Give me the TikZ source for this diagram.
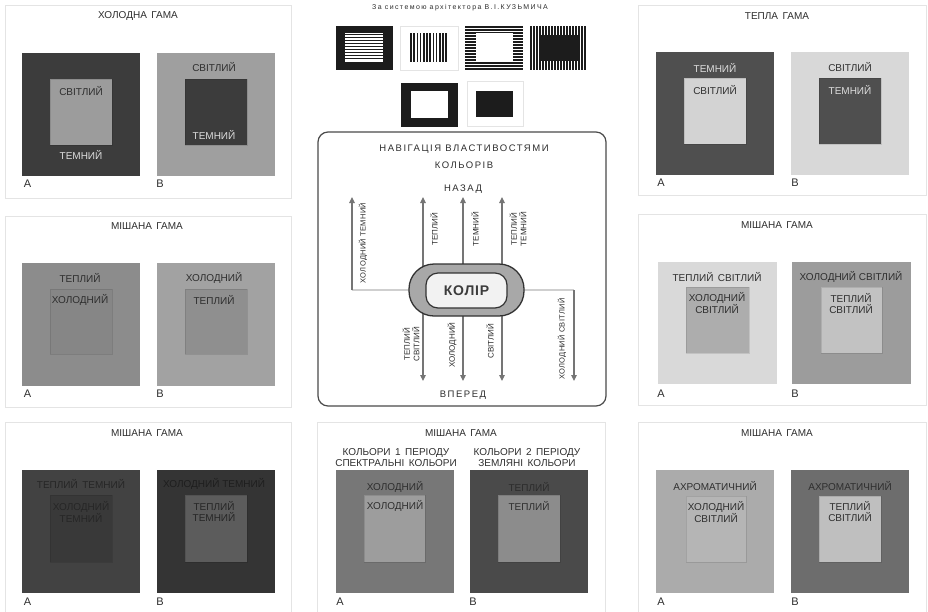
\documentclass[tikz,border=0pt]{standalone}
\usepackage{fontspec}
\setmainfont{Liberation Sans}
\usetikzlibrary{arrows.meta,backgrounds}
\definecolor{panelc}{HTML}{E4E4E4}
\definecolor{txtc}{HTML}{2E2E2E}
\definecolor{lighttxt}{HTML}{DCDCDC}
\definecolor{arrc}{HTML}{757575}
\definecolor{connc}{HTML}{CFCFCF}
\definecolor{navc}{HTML}{4A4A4A}
\definecolor{iconc}{HTML}{1C1C1C}
\newcommand{\gsp}{\hspace{0.45em}}
\begin{document}
\begin{tikzpicture}[x=1pt,y=-1pt,
  every node/.style={inner sep=0pt,outer sep=0pt},
  panel/.style={draw=panelc,line width=0.7pt,anchor=north west},
  sq/.style={anchor=north west,minimum width=118pt,minimum height=123pt},
  insq/.style={anchor=north west,minimum width=62pt,minimum height=66pt,draw=black,draw opacity=0.10,line width=0.5pt},
  ttl/.style={font=\fontsize{10}{12}\selectfont,text=txtc},
  lab/.style={font=\fontsize{10}{11}\selectfont,align=center,text=txtc},
  labl/.style={lab,text=lighttxt},
  lbl/.style={font=\fontsize{11}{12}\selectfont,text=txtc},
  navt/.style={font=\fontsize{9.5}{17}\addfontfeature{LetterSpace=16}\selectfont,text=txtc,align=center},
  rl/.style={rotate=90,font=\fontsize{8}{9.5}\selectfont,align=center,text=txtc},
  rlo/.style={rotate=90,font=\fontsize{7.5}{9}\addfontfeature{LetterSpace=4}\selectfont,text=txtc},
  arr/.style={draw=arrc,line width=1.1pt,-{Triangle[width=5.5pt,length=6pt]}},
  conn/.style={draw=connc,line width=1.4pt},
  icbox/.style={draw=panelc,line width=0.7pt}
]
\useasboundingbox (0,0) rectangle (928,611);
\begin{pgfonlayer}{background}
\fill[white] (0,0) rectangle (928,611);
\end{pgfonlayer}

% ---------- Panel 1: ХОЛОДНА ГАМА ----------
\node[panel,minimum width=286pt,minimum height=193pt] (p1) at (5,5) {};
\node[ttl] (p1t) at (138,16) {ХОЛОДНА\gsp ГАМА};
\node[sq,fill={rgb,255:red,60;green,60;blue,60}] (p1a) at (22,53) {};
\node[insq,fill={rgb,255:red,156;green,156;blue,156}] (p1ai) at (50,79) {};
\node[lab] (p1a1) at (81,91) {СВІТЛИЙ};
\node[labl] (p1a2) at (81,155) {ТЕМНИЙ};
\node[sq,fill={rgb,255:red,159;green,159;blue,159}] (p1b) at (157,53) {};
\node[insq,fill={rgb,255:red,60;green,60;blue,60}] (p1bi) at (185,79) {};
\node[lab] (p1b1) at (214,67) {СВІТЛИЙ};
\node[labl] (p1b2) at (214,135) {ТЕМНИЙ};
\node[lbl] (p1la) at (27.5,184) {А};
\node[lbl] (p1lb) at (160,184) {В};

% ---------- Panel 2: МІШАНА ГАМА (mid-left) ----------
\node[panel,minimum width=286pt,minimum height=191pt] (p2) at (5,216) {};
\node[ttl] (p2t) at (147,226) {МІШАНА\gsp ГАМА};
\node[sq,fill={rgb,255:red,140;green,140;blue,140}] (p2a) at (22,263) {};
\node[insq,minimum height=65pt,fill={rgb,255:red,134;green,134;blue,134}] (p2ai) at (50,289) {};
\node[lab] (p2a1) at (80,278) {ТЕПЛИЙ};
\node[lab] (p2a2) at (80,300) {ХОЛОДНИЙ};
\node[sq,fill={rgb,255:red,162;green,162;blue,162}] (p2b) at (157,263) {};
\node[insq,minimum height=65pt,fill={rgb,255:red,143;green,143;blue,143}] (p2bi) at (185,289) {};
\node[lab] (p2b1) at (214,278) {ХОЛОДНИЙ};
\node[lab] (p2b2) at (214,300) {ТЕПЛИЙ};
\node[lbl] (p2la) at (27.5,394) {А};
\node[lbl] (p2lb) at (160,394) {В};

% ---------- Panel 3: МІШАНА ГАМА (bottom-left) ----------
\node[panel,minimum width=286pt,minimum height=200pt] (p3) at (5,422) {};
\node[ttl] (p3t) at (147,433) {МІШАНА\gsp ГАМА};
\node[sq,fill={rgb,255:red,66;green,66;blue,66}] (p3a) at (22,470) {};
\node[insq,minimum height=67pt,fill={rgb,255:red,57;green,57;blue,57}] (p3ai) at (50,495) {};
\node[lab,text={rgb,255:red,38;green,38;blue,38}] (p3a1) at (81,484) {ТЕПЛИЙ\gsp ТЕМНИЙ};
\node[lab,text={rgb,255:red,38;green,38;blue,38}] (p3a2) at (81,511.5) {ХОЛОДНИЙ\\ТЕМНИЙ};
\node[sq,fill={rgb,255:red,52;green,52;blue,52}] (p3b) at (157,470) {};
\node[insq,minimum height=67pt,fill={rgb,255:red,92;green,92;blue,92}] (p3bi) at (185,495) {};
\node[lab,text={rgb,255:red,30;green,30;blue,30}] (p3b1) at (214,484) {ХОЛОДНИЙ ТЕМНИЙ};
\node[lab,text={rgb,255:red,38;green,38;blue,38}] (p3b2) at (214,511.5) {ТЕПЛИЙ\\ТЕМНИЙ};
\node[lbl] (p3la) at (27.5,602) {А};
\node[lbl] (p3lb) at (160,602) {В};

% ---------- Panel 4: ТЕПЛА ГАМА ----------
\node[panel,minimum width=288pt,minimum height=190pt] (p4) at (638,5) {};
\node[ttl] (p4t) at (777,16) {ТЕПЛА\gsp ГАМА};
\node[sq,fill={rgb,255:red,79;green,79;blue,79}] (p4a) at (656,52) {};
\node[insq,fill={rgb,255:red,211;green,211;blue,211}] (p4ai) at (684,78) {};
\node[labl] (p4a1) at (715,68) {ТЕМНИЙ};
\node[lab] (p4a2) at (715,90) {СВІТЛИЙ};
\node[sq,fill={rgb,255:red,216;green,216;blue,216}] (p4b) at (791,52) {};
\node[insq,fill={rgb,255:red,79;green,79;blue,79}] (p4bi) at (819,78) {};
\node[lab] (p4b1) at (850,67) {СВІТЛИЙ};
\node[labl] (p4b2) at (850,90) {ТЕМНИЙ};
\node[lbl] (p4la) at (661,183) {А};
\node[lbl] (p4lb) at (795,183) {В};

% ---------- Panel 5: МІШАНА ГАМА (mid-right) ----------
\node[panel,minimum width=288pt,minimum height=191pt] (p5) at (638,214) {};
\node[ttl] (p5t) at (777,225) {МІШАНА\gsp ГАМА};
\node[sq,minimum width=119pt,minimum height=122pt,fill={rgb,255:red,217;green,217;blue,217}] (p5a) at (658,262) {};
\node[insq,minimum width=63pt,fill={rgb,255:red,173;green,173;blue,173}] (p5ai) at (686,287) {};
\node[lab] (p5a1) at (717,277) {ТЕПЛИЙ\gsp СВІТЛИЙ};
\node[lab] (p5a2) at (717,303.5) {ХОЛОДНИЙ\\СВІТЛИЙ};
\node[sq,minimum width=119pt,minimum height=122pt,fill={rgb,255:red,156;green,156;blue,156}] (p5b) at (792,262) {};
\node[insq,minimum width=61pt,fill={rgb,255:red,194;green,194;blue,194}] (p5bi) at (821,287) {};
\node[lab] (p5b1) at (851,277) {ХОЛОДНИЙ СВІТЛИЙ};
\node[lab] (p5b2) at (851,303.5) {ТЕПЛИЙ\\СВІТЛИЙ};
\node[lbl] (p5la) at (661,394) {А};
\node[lbl] (p5lb) at (795,394) {В};

% ---------- Panel 6: МІШАНА ГАМА (bottom-right) ----------
\node[panel,minimum width=288pt,minimum height=200pt] (p6) at (638,422) {};
\node[ttl] (p6t) at (777,433) {МІШАНА\gsp ГАМА};
\node[sq,fill={rgb,255:red,171;green,171;blue,171}] (p6a) at (656,470) {};
\node[insq,minimum width=60pt,fill={rgb,255:red,181;green,181;blue,181}] (p6ai) at (686,496) {};
\node[lab] (p6a1) at (715,486) {АХРОМАТИЧНИЙ};
\node[lab] (p6a2) at (716,512) {ХОЛОДНИЙ\\СВІТЛИЙ};
\node[sq,fill={rgb,255:red,109;green,109;blue,109}] (p6b) at (791,470) {};
\node[insq,fill={rgb,255:red,191;green,191;blue,191}] (p6bi) at (819,496) {};
\node[lab] (p6b1) at (850,486) {АХРОМАТИЧНИЙ};
\node[lab] (p6b2) at (850,512) {ТЕПЛИЙ\\СВІТЛИЙ};
\node[lbl] (p6la) at (661,602) {А};
\node[lbl] (p6lb) at (795,602) {В};

% ---------- Panel 7: МІШАНА ГАМА (bottom-middle) ----------
\node[panel,minimum width=288pt,minimum height=200pt] (p7) at (317,422) {};
\node[ttl] (p7t) at (461,433) {МІШАНА\gsp ГАМА};
\node[lab,font=\fontsize{10}{11}\selectfont] (p7s1) at (396,457.5) {КОЛЬОРИ\gsp 1\gsp ПЕРІОДУ\\СПЕКТРАЛЬНІ\gsp КОЛЬОРИ};
\node[lab,font=\fontsize{10}{11}\selectfont] (p7s2) at (527,457.5) {КОЛЬОРИ\gsp 2\gsp ПЕРІОДУ\\ЗЕМЛЯНІ\gsp КОЛЬОРИ};
\node[sq,fill={rgb,255:red,119;green,119;blue,119}] (p7a) at (336,470) {};
\node[insq,minimum width=61pt,minimum height=67pt,fill={rgb,255:red,157;green,157;blue,157}] (p7ai) at (364,495) {};
\node[lab] (p7a1) at (395,487) {ХОЛОДНИЙ};
\node[lab] (p7a2) at (395,506) {ХОЛОДНИЙ};
\node[sq,fill={rgb,255:red,74;green,74;blue,74}] (p7b) at (470,470) {};
\node[insq,minimum height=67pt,fill={rgb,255:red,140;green,140;blue,140}] (p7bi) at (498,495) {};
\node[lab,text={rgb,255:red,44;green,44;blue,44}] (p7b1) at (529,487) {ТЕПЛИЙ};
\node[lab] (p7b2) at (529,506) {ТЕПЛИЙ};
\node[lbl] (p7la) at (340,602) {А};
\node[lbl] (p7lb) at (473,602) {В};

% ---------- Header and icons ----------
\node[font=\fontsize{7}{8}\addfontfeature{LetterSpace=20}\selectfont,text=txtc] (hdr) at (460,8) {За\gsp системою\gsp архітектора\gsp В.І.КУЗЬМИЧА};
% icon 1
\fill[iconc] (336,26) rectangle (393,70);
\fill[white] (345,33) rectangle (383,62);
\foreach \yy in {34.5,37.5,...,61} \draw[iconc,line width=1.4pt] (345,\yy) -- (383,\yy);
% icon 2
\draw[icbox] (400,26) rectangle (458,70);
\foreach \xx in {411,414.2,...,448} \draw[iconc,line width=1.7pt] (\xx,33) -- (\xx,62);
% icon 3
\foreach \yy in {27,30,...,69} \draw[iconc,line width=1.4pt] (465,\yy) -- (523,\yy);
\fill[white] (476,33) rectangle (513,62);
% icon 4
\foreach \xx in {531,534,...,587} \draw[iconc,line width=1.3pt] (\xx,26) -- (\xx,70);
\fill[iconc] (540,35) rectangle (578,61);
% icon 5
\fill[iconc] (401,83) rectangle (458,127);
\fill[white] (411,91) rectangle (448,118);
% icon 6
\draw[icbox] (467,81) rectangle (523,126);
\fill[iconc] (476,91) rectangle (513,117);

% ---------- Navigation panel ----------
\node[draw=navc,line width=1.2pt,rounded corners=10pt,anchor=north west,minimum width=288pt,minimum height=274pt] (nav) at (318,132) {};
\node[navt] (navt) at (464,156.5) {НАВІГАЦІЯ\gsp ВЛАСТИВОСТЯМИ\\КОЛЬОРІВ};
\node[navt] (back) at (463,189) {НАЗАД};
\node[navt] (fwd) at (463,395) {ВПЕРЕД};
\node[draw={rgb,255:red,50;green,50;blue,50},line width=1.3pt,fill={rgb,255:red,168;green,168;blue,168},rounded corners=25pt,minimum width=115pt,minimum height=52pt] (pill) at (466.5,290) {};
\node[draw={rgb,255:red,50;green,50;blue,50},line width=1.2pt,fill={rgb,255:red,242;green,242;blue,242},rounded corners=12pt,minimum width=81pt,minimum height=35pt,font=\fontsize{14}{16}\bfseries\addfontfeature{LetterSpace=6}\selectfont,text={rgb,255:red,60;green,60;blue,60}] (core) at (466.5,290.5) {КОЛІР};

\coordinate (u1) at (423,197);
\coordinate (u2) at (463,197);
\coordinate (u3) at (502,197);
\coordinate (d1) at (423,381);
\coordinate (d2) at (463,381);
\coordinate (d3) at (502,381);
\coordinate (lc) at (352,290);
\coordinate (lt) at (352,197);
\coordinate (rc) at (574,290);
\coordinate (rb) at (574,381);
\begin{pgfonlayer}{background}
\draw[arr] (u1 |- pill.center) -- (u1);
\draw[arr] (u2 |- pill.center) -- (u2);
\draw[arr] (u3 |- pill.center) -- (u3);
\draw[arr] (d1 |- pill.center) -- (d1);
\draw[arr] (d2 |- pill.center) -- (d2);
\draw[arr] (d3 |- pill.center) -- (d3);
\draw[conn] (pill.west) -- (lc);
\draw[arr] (lc) -- (lt);
\draw[conn] (pill.east) -- (rc);
\draw[arr] (rc) -- (rb);
\end{pgfonlayer}

\node[rlo] (lab1) at (363,243) {ХОЛОДНИЙ ТЕМНИЙ};
\node[rl] (lab2) at (434,229) {ТЕПЛИЙ};
\node[rl] (lab3) at (475,229) {ТЕМНИЙ};
\node[rl] (lab4) at (518,229) {ТЕПЛИЙ\\ТЕМНИЙ};
\node[rl] (lab5) at (411,344) {ТЕПЛИЙ\\СВІТЛИЙ};
\node[rl] (lab6) at (452,345) {ХОЛОДНИЙ};
\node[rl] (lab7) at (490,341) {СВІТЛИЙ};
\node[rlo] (lab8) at (562,339) {ХОЛОДНИЙ СВІТЛИЙ};
\end{tikzpicture}
\end{document}
